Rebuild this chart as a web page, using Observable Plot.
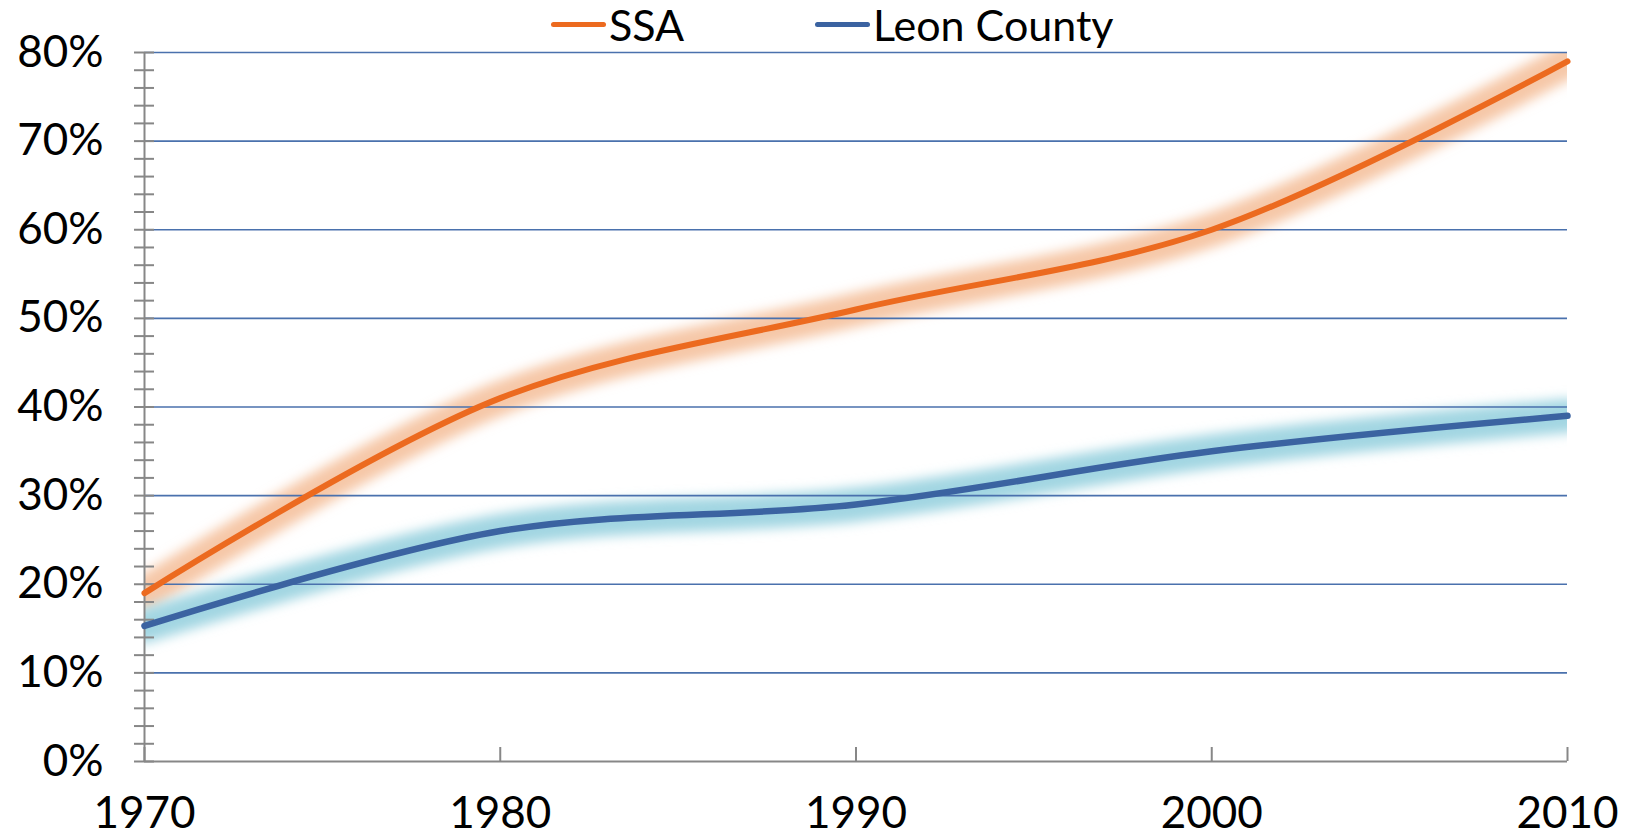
<!DOCTYPE html>
<html>
<head>
<meta charset="utf-8">
<script src="https://cdn.jsdelivr.net/npm/d3@7"></script>
<script src="https://cdn.jsdelivr.net/npm/@observablehq/plot@0.6"></script>
<style>
  html, body { margin: 0; padding: 0; background: #fff; }
  body { font-family: Lato, "Noto Sans", sans-serif; width: 1638px; height: 837px; overflow: hidden; }
  #legend { position: relative; height: 44px; width: 1638px; z-index: 2; }
  .item { position: absolute; top: 2px; height: 44px; display: flex; align-items: center; font-size: 43px; color: #000; line-height: 1; }
  .swatch { width: 55px; height: 5px; border-radius: 3px; margin-right: 3px; }
  #chart svg { display: block; overflow: visible; }
</style>
</head>
<body>
<div id="legend"></div>
<div id="chart"></div>
<script>
// ---- data ----
const years = [1970, 1980, 1990, 2000, 2010];
const ssaValues = [19, 41, 51, 60, 79];
const leonValues = [15.3, 26, 29, 35, 39];
const seriesNames = ["SSA", "Leon County"];
const seriesColors = ["#ec6a1f", "#3b63a1"];
const glowColors = ["#f6c8a8", "#a2d6e2"];
const yMajorTicks = [0, 10, 20, 30, 40, 50, 60, 70, 80];
const yMinorTicks = d3.range(0, 81, 2);
const xTicks = [1970, 1980, 1990, 2000, 2010];

const ssa = years.map((y, i) => ({year: y, value: ssaValues[i]}));
const leon = years.map((y, i) => ({year: y, value: leonValues[i]}));

// ---- legend ----
const legend = d3.select("#legend");
const legendLefts = [551, 815];
seriesNames.forEach((name, i) => {
  const it = legend.append("div").attr("class", "item").style("left", legendLefts[i] + "px");
  it.append("div").attr("class", "swatch").style("background", seriesColors[i]);
  it.append("span").text(name);
});

// ---- chart ----
const axisGrey = "#878787";
const plot = Plot.plot({
  width: 1638,
  height: 793,
  marginTop: 8,
  marginBottom: 76,
  marginLeft: 144,
  marginRight: 71,
  style: {fontFamily: "Lato, 'Noto Sans', sans-serif", fontSize: "44px", color: "#000", background: "#fff", overflow: "visible"},
  x: {type: "linear", domain: [1970, 2010]},
  y: {domain: [0, 80]},
  marks: [
    Plot.line(ssa, {x: "year", y: "value", curve: "catmull-rom", stroke: glowColors[0], strokeWidth: 34, strokeOpacity: 1, clip: true}),
    Plot.line(leon, {x: "year", y: "value", curve: "catmull-rom", stroke: glowColors[1], strokeWidth: 34, strokeOpacity: 1, clip: true}),
    Plot.ruleY(yMajorTicks.filter(d => d > 0), {stroke: "#4a71ad", strokeWidth: 1.6}),
    Plot.axisY({ticks: yMinorTicks, tickSize: 10, tickFormat: () => "", stroke: axisGrey, strokeWidth: 2, label: null}),
    Plot.axisY({ticks: yMinorTicks, tickSize: -10, tickFormat: () => "", stroke: axisGrey, strokeWidth: 2, label: null}),
    Plot.axisY({ticks: yMajorTicks, tickSize: 0, tickPadding: 41, tickFormat: d => d + "%", fontSize: 44, fill: "#000", label: null}),
    Plot.axisX({ticks: xTicks, tickSize: -14, tickFormat: () => "", stroke: axisGrey, strokeWidth: 2, label: null}),
    Plot.axisX({ticks: xTicks, tickSize: 0, tickPadding: 35, tickFormat: d => String(d), fontSize: 44, fill: "#000", label: null}),
    Plot.ruleX([1970], {stroke: axisGrey, strokeWidth: 2}),
    Plot.ruleY([0], {stroke: axisGrey, strokeWidth: 2}),
    Plot.line(ssa, {x: "year", y: "value", curve: "catmull-rom", stroke: seriesColors[0], strokeWidth: 6, strokeLinecap: "round"}),
    Plot.line(leon, {x: "year", y: "value", curve: "catmull-rom", stroke: seriesColors[1], strokeWidth: 6.5, strokeLinecap: "round"})
  ]
});
document.getElementById("chart").appendChild(plot);

// glow blur filter
const svg = d3.select(plot);
const defs = svg.insert("defs", ":first-child");
defs.append("filter").attr("id", "glowblur")
  .attr("filterUnits", "userSpaceOnUse")
  .attr("x", 0).attr("y", 0).attr("width", 1638).attr("height", 793)
  .append("feGaussianBlur").attr("stdDeviation", 6);
const lineGroups = svg.selectAll('g[aria-label="line"]').nodes();
lineGroups.slice(0, 2).forEach(g => g.setAttribute("filter", "url(#glowblur)"));
</script>
</body>
</html>
